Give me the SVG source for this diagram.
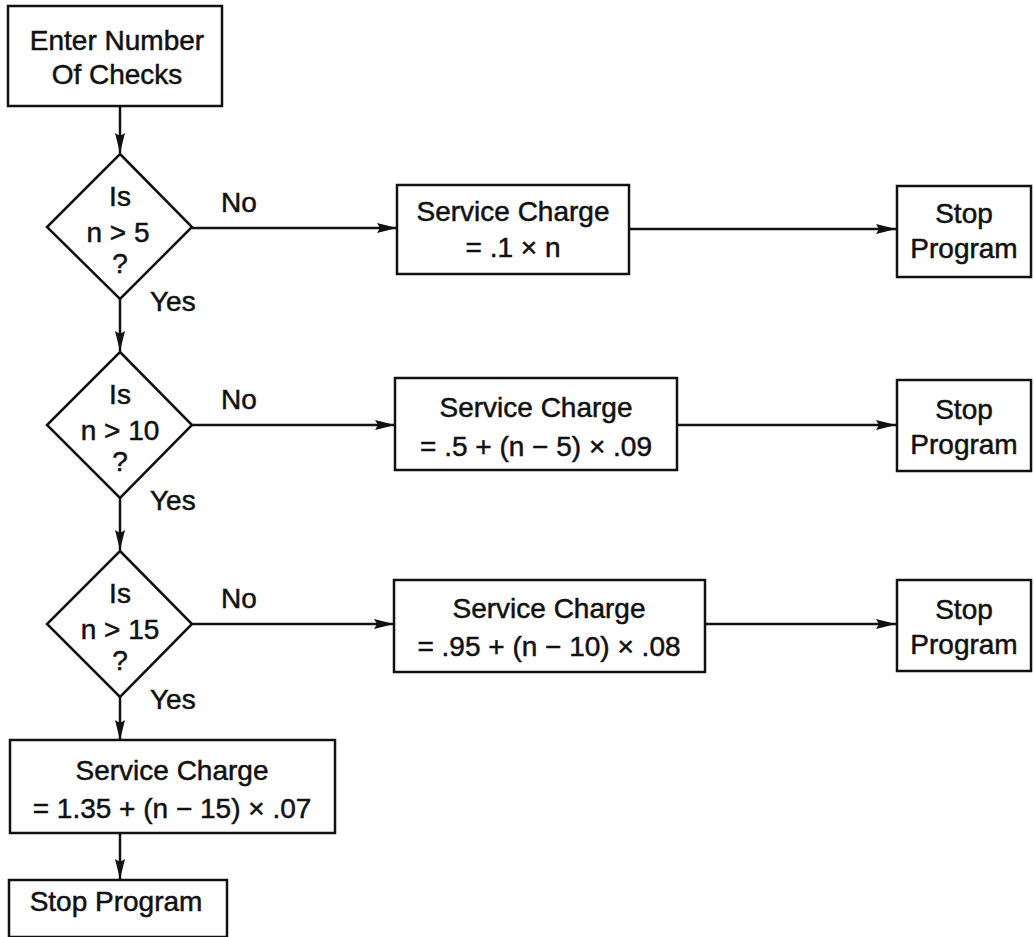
<svg xmlns="http://www.w3.org/2000/svg" width="1034" height="937" viewBox="0 0 1034 937">
  <style>
    .box { fill: #fff; stroke: #111; stroke-width: 2.5; }
    .edge { fill: none; stroke: #111; stroke-width: 2.5; }
    text { font-family: "Liberation Sans", Arial, sans-serif; font-size: 28px; fill: #111; stroke: #111; stroke-width: 0.5; text-anchor: middle; }
    .lbl { text-anchor: start; }
  </style>
  <defs>
    <marker id="arrow" viewBox="0 0 20 10" refX="20" refY="5" markerWidth="20" markerHeight="10" markerUnits="userSpaceOnUse" orient="auto">
      <path d="M0,0 L20,5 L0,10 L3,5 Z" fill="#111"/>
    </marker>
  </defs>

  <!-- connectors -->
  <g id="connectors">
    <line class="edge" x1="120" y1="106" x2="120" y2="153" marker-end="url(#arrow)"/>
    <line class="edge" x1="120" y1="299" x2="120" y2="351" marker-end="url(#arrow)"/>
    <line class="edge" x1="120" y1="498" x2="120" y2="550" marker-end="url(#arrow)"/>
    <line class="edge" x1="120" y1="697" x2="120" y2="740" marker-end="url(#arrow)"/>
    <line class="edge" x1="120" y1="833" x2="120" y2="879" marker-end="url(#arrow)"/>

    <line class="edge" x1="192" y1="228" x2="397" y2="228" marker-end="url(#arrow)"/>
    <line class="edge" x1="629" y1="229" x2="896" y2="229" marker-end="url(#arrow)"/>
    <line class="edge" x1="192" y1="425" x2="395" y2="425" marker-end="url(#arrow)"/>
    <line class="edge" x1="677" y1="425" x2="896" y2="425" marker-end="url(#arrow)"/>
    <line class="edge" x1="192" y1="624" x2="394" y2="624" marker-end="url(#arrow)"/>
    <line class="edge" x1="705" y1="624" x2="896" y2="624" marker-end="url(#arrow)"/>

    <text class="lbl" x="221" y="212">No</text>
    <text class="lbl" x="150" y="311">Yes</text>
    <text class="lbl" x="221" y="409">No</text>
    <text class="lbl" x="150" y="510">Yes</text>
    <text class="lbl" x="221" y="608">No</text>
    <text class="lbl" x="150" y="709">Yes</text>
  </g>

  <!-- start -->
  <g id="enter">
    <rect class="box" x="8" y="6" width="214" height="100"/>
    <text x="117" y="50">Enter Number</text>
    <text x="117" y="84">Of Checks</text>
  </g>

  <!-- decisions -->
  <g id="dec1">
    <polygon class="box" points="120,154 192,227 120,299 47,227"/>
    <text x="120" y="206">Is</text>
    <text x="118" y="242">n &gt; 5</text>
    <text x="120" y="273">?</text>
  </g>
  <g id="dec2">
    <polygon class="box" points="120,352 192,425 120,498 47,425"/>
    <text x="120" y="404">Is</text>
    <text x="120" y="440">n &gt; 10</text>
    <text x="120" y="471">?</text>
  </g>
  <g id="dec3">
    <polygon class="box" points="120,551 192,624 120,697 47,624"/>
    <text x="120" y="603">Is</text>
    <text x="120" y="639">n &gt; 15</text>
    <text x="120" y="670">?</text>
  </g>

  <!-- charge calculations -->
  <g id="charge1">
    <rect class="box" x="397" y="185" width="232" height="89"/>
    <text x="513" y="221">Service Charge</text>
    <text x="513" y="257">= .1 × n</text>
  </g>
  <g id="charge2">
    <rect class="box" x="395" y="378" width="282" height="92"/>
    <text x="536" y="417">Service Charge</text>
    <text x="536" y="456">= .5 + (n − 5) × .09</text>
  </g>
  <g id="charge3">
    <rect class="box" x="394" y="580" width="311" height="92"/>
    <text x="549" y="618">Service Charge</text>
    <text x="549" y="656">= .95 + (n − 10) × .08</text>
  </g>
  <g id="charge4">
    <rect class="box" x="10" y="740" width="325" height="93"/>
    <text x="172" y="780">Service Charge</text>
    <text x="172" y="818">= 1.35 + (n − 15) × .07</text>
  </g>

  <!-- stop boxes -->
  <g id="stop1">
    <rect class="box" x="897" y="186" width="134" height="91"/>
    <text x="964" y="223">Stop</text>
    <text x="964" y="258">Program</text>
  </g>
  <g id="stop2">
    <rect class="box" x="897" y="380" width="134" height="91"/>
    <text x="964" y="419">Stop</text>
    <text x="964" y="454">Program</text>
  </g>
  <g id="stop3">
    <rect class="box" x="897" y="580" width="134" height="91"/>
    <text x="964" y="619">Stop</text>
    <text x="964" y="654">Program</text>
  </g>
  <g id="stop4">
    <rect class="box" x="9" y="880" width="218" height="57"/>
    <text x="116" y="911">Stop Program</text>
  </g>
</svg>
